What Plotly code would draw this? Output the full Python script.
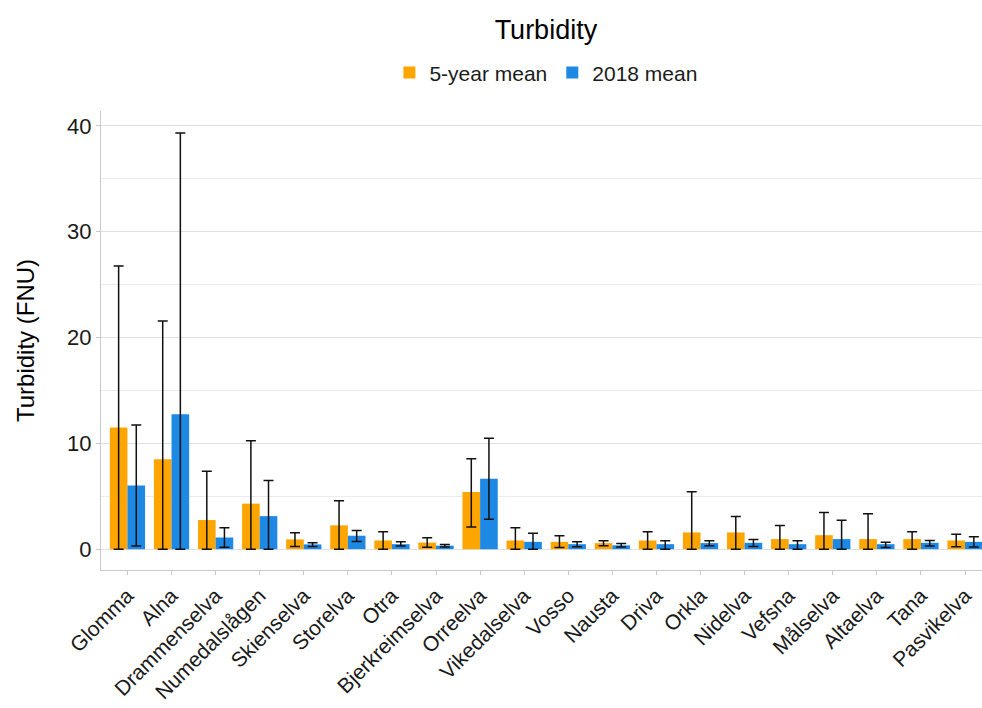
import plotly.graph_objects as go

# Rivers (x axis categories)
rivers = ["Glomma", "Alna", "Drammenselva", "Numedalslågen", "Skienselva", "Storelva",
          "Otra", "Bjerkreimselva", "Orreelva", "Vikedalselva", "Vosso", "Nausta",
          "Driva", "Orkla", "Nidelva", "Vefsna", "Målselva", "Altaelva", "Tana", "Pasvikelva"]

# 5-year mean turbidity (FNU) with lower / upper whisker ends
mean_5yr = [11.5, 8.5, 2.75, 4.3, 0.92, 2.25, 0.82, 0.62, 5.4, 0.82, 0.69, 0.57,
            0.82, 1.58, 1.58, 0.95, 1.32, 0.95, 0.95, 0.82]
low_5yr = [0, 0, 0, 0, 0.25, 0, 0, 0.18, 2.1, 0, 0.15, 0.32,
           0, 0, 0, 0, 0, 0, 0, 0.22]
high_5yr = [26.75, 21.55, 7.35, 10.25, 1.55, 4.57, 1.64, 1.07, 8.55, 2.02, 1.26, 0.8,
            1.64, 5.42, 3.09, 2.24, 3.47, 3.34, 1.64, 1.4]

# 2018 mean turbidity (FNU) with lower / upper whisker ends
mean_2018 = [6.02, 12.74, 1.1, 3.12, 0.45, 1.27, 0.47, 0.33, 6.65, 0.69, 0.47, 0.36,
             0.47, 0.57, 0.6, 0.47, 0.95, 0.47, 0.6, 0.69]
low_2018 = [0.3, 0, 0.19, 0, 0.25, 0.72, 0.3, 0.2, 2.83, 0, 0.23, 0.2,
            0, 0.32, 0.25, 0, 0, 0.15, 0.3, 0.2]
high_2018 = [11.72, 39.33, 2.02, 6.49, 0.6, 1.77, 0.69, 0.45, 10.48, 1.51, 0.69, 0.54,
             0.79, 0.79, 0.91, 0.79, 2.74, 0.66, 0.82, 1.17]

ORANGE = "#FFA500"
BLUE = "#1E88E5"


def whiskers(mean, low, high):
    plus = [h - m for m, h in zip(mean, high)]
    minus = [m - l for m, l in zip(mean, low)]
    return dict(type="data", symmetric=False, array=plus, arrayminus=minus,
                color="#111111", thickness=1.5, width=5)


fig = go.Figure()
fig.add_trace(go.Bar(x=rivers, y=mean_5yr, name="5-year mean", marker_color=ORANGE,
                     marker_line_width=0, error_y=whiskers(mean_5yr, low_5yr, high_5yr)))
fig.add_trace(go.Bar(x=rivers, y=mean_2018, name="2018 mean", marker_color=BLUE,
                     marker_line_width=0, error_y=whiskers(mean_2018, low_2018, high_2018)))

font = "Liberation Sans, Arial, sans-serif"
fig.update_layout(
    width=982, height=708,
    margin=dict(l=101, r=0, t=111, b=138, autoexpand=False),
    paper_bgcolor="white", plot_bgcolor="white",
    barmode="group", bargap=0.2, bargroupgap=0,
    font=dict(family=font, color="#1a1a1a"),
    title=dict(text="Turbidity", x=0.505, xref="paper", xanchor="center",
               y=1 - 30 / 708, yanchor="middle", font=dict(size=27, color="black")),
    legend=dict(orientation="h", x=0.505, xanchor="center", y=1.083, yanchor="middle",
                font=dict(size=21, color="#1a1a1a"), itemwidth=30, traceorder="normal"),
    showlegend=True,
)
fig.update_xaxes(
    type="category", range=[-0.6, 19.385], showgrid=False, automargin=False,
    showline=True, linecolor="#c8c8c8", linewidth=1.3, mirror=False,
    ticks="outside", ticklen=4, tickcolor="#c8c8c8", tickwidth=1,
    tickangle=-45, tickfont=dict(size=21, color="#1a1a1a"),
)
fig.update_yaxes(
    range=[-1.97, 41.4], tickvals=[0, 10, 20, 30, 40], automargin=False,
    showgrid=True, gridcolor="#e0e0e0", gridwidth=1.2, zeroline=False,
    minor=dict(tickvals=[5, 15, 25, 35], showgrid=True, gridcolor="#ececec", gridwidth=1, ticks=""),
    showline=True, linecolor="#c8c8c8", linewidth=1.3,
    ticks="outside", ticklen=4, tickcolor="#c8c8c8", tickwidth=1,
    tickfont=dict(size=22, color="#1a1a1a"),
    title=dict(text="Turbidity (FNU)", font=dict(size=24, color="black"), standoff=25),
)

fig.write_html("out.html")
